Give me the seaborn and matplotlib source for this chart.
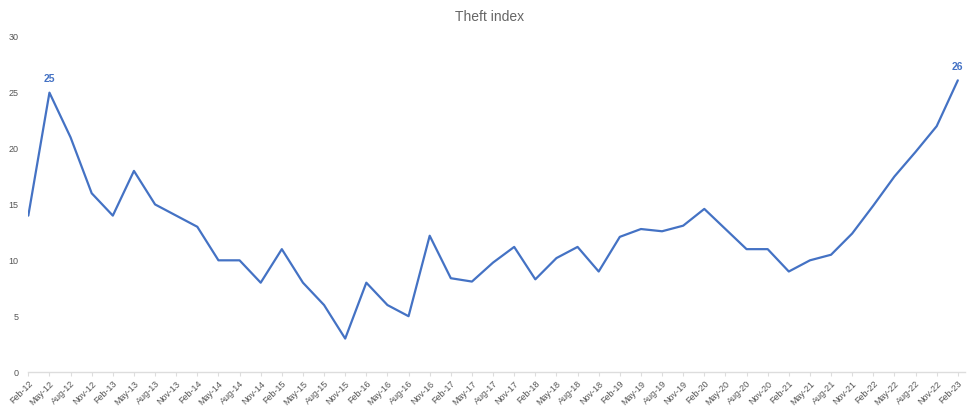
import pandas as pd
import matplotlib
matplotlib.use("Agg")
import matplotlib.pyplot as plt
import seaborn as sns
import numpy as np

# quarterly labels Feb-12 .. Feb-23
quarters = [
    "Feb-12", "May-12", "Aug-12", "Nov-12",
    "Feb-13", "May-13", "Aug-13", "Nov-13",
    "Feb-14", "May-14", "Aug-14", "Nov-14",
    "Feb-15", "May-15", "Aug-15", "Nov-15",
    "Feb-16", "May-16", "Aug-16", "Nov-16",
    "Feb-17", "May-17", "Aug-17", "Nov-17",
    "Feb-18", "May-18", "Aug-18", "Nov-18",
    "Feb-19", "May-19", "Aug-19", "Nov-19",
    "Feb-20", "May-20", "Aug-20", "Nov-20",
    "Feb-21", "May-21", "Aug-21", "Nov-21",
    "Feb-22", "May-22", "Aug-22", "Nov-22",
    "Feb-23",
]
theft_index = [
    14, 25, 21, 16,
    14, 18, 15, 14,
    13, 10, 10, 8,
    11, 8, 6, 3,
    8, 6, 5, 12.2,
    8.4, 8.1, 9.8, 11.2,
    8.3, 10.2, 11.2, 9,
    12.1, 12.8, 12.6, 13.1,
    14.6, 12.8, 11, 11,
    9, 10, 10.5, 12.4,
    14.9, 17.5, 19.7, 22,
    26.1,
]
labelled = {"May-12": "25", "Feb-23": "26"}

line_color = "#4472C4"

sns.set_theme(style="white")
plt.rcParams["font.family"] = ["Liberation Sans", "DejaVu Sans"]

df = pd.DataFrame({"quarter": quarters, "value": theft_index})
df["pos"] = np.arange(len(df))

fig = plt.figure(figsize=(9.8, 4.13), dpi=100)
ax = fig.add_axes([0.0289, 0.099, 0.956, 0.812])

sns.lineplot(data=df, x="pos", y="value", color=line_color, linewidth=1.6, ax=ax)

# data labels on first peak and last point
for _, row in df.iterrows():
    if row["quarter"] in labelled:
        ax.annotate(labelled[row["quarter"]], (row["pos"], row["value"]),
                    xytext=(0, 6), textcoords="offset points", ha="center", va="bottom",
                    color=line_color, fontsize=7.5, fontweight="bold")

ax.set_xlim(0, 44.35)
ax.set_ylim(0, 30)
ax.set_xticks(df["pos"])
ax.set_xticklabels(quarters, rotation=45, ha="right", rotation_mode="anchor",
                   fontsize=6.5, color="#555555")
ax.set_yticks([0, 5, 10, 15, 20, 25, 30])
ax.set_yticklabels(["0", "5", "10", "15", "20", "25", "30"], fontsize=6.5, color="#555555")
ax.tick_params(axis="x", length=3, width=0.8, color="#dddddd", pad=2, bottom=True)
ax.tick_params(axis="y", length=0, pad=7)
ax.set_xlabel("")
ax.set_ylabel("")

for side in ["top", "right", "left"]:
    ax.spines[side].set_visible(False)
ax.spines["bottom"].set_color("#dddddd")
ax.spines["bottom"].set_linewidth(1)

fig.text(0.5, 0.96, "Theft index", ha="center", va="center", fontsize=10, color="#666666")

fig.savefig("out.png", dpi=100)
